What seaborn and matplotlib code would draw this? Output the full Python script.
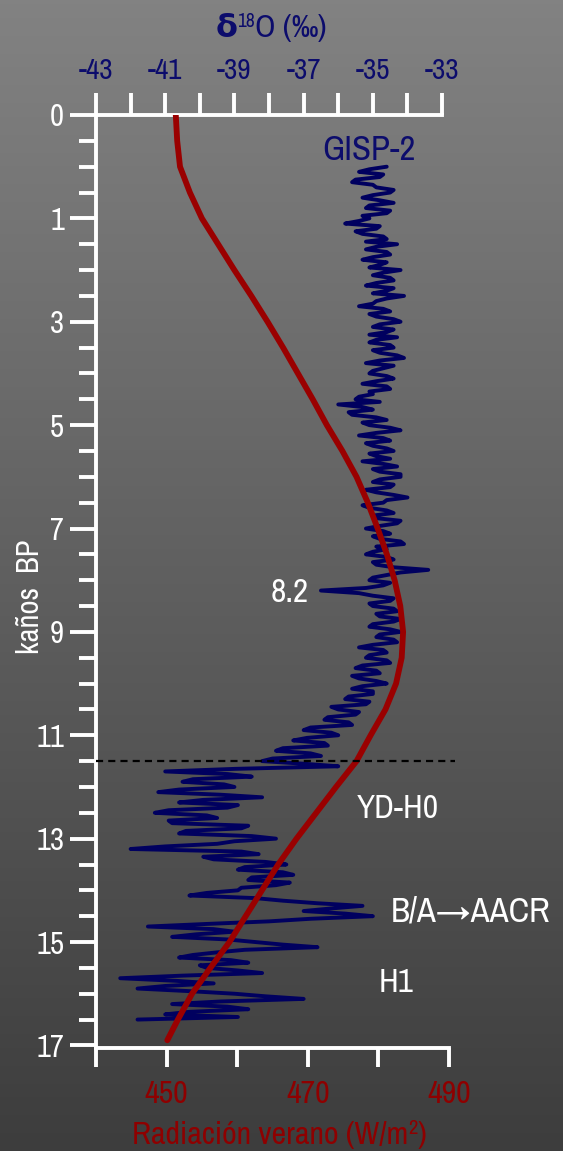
import numpy as np
import pandas as pd
import matplotlib
matplotlib.use("Agg")
import matplotlib.pyplot as plt
from matplotlib.colors import LinearSegmentedColormap
from matplotlib.ticker import MultipleLocator
from matplotlib import font_manager as fm
import seaborn as sns

# ---------------- data ----------------
gisp_age = [
    0.0, 0.05, 0.1, 0.15, 0.2, 0.25, 0.3, 0.35, 0.4, 0.45,
    0.5, 0.55, 0.6, 0.65, 0.7, 0.75, 0.8, 0.85, 0.9, 0.95,
    1.0, 1.05, 1.1, 1.15, 1.2, 1.25, 1.3, 1.35, 1.4, 1.45,
    1.5, 1.55, 1.6, 1.65, 1.7, 1.75, 1.8, 1.85, 1.9, 1.95,
    2.0, 2.05, 2.1, 2.15, 2.2, 2.25, 2.3, 2.35, 2.4, 2.45,
    2.5, 2.55, 2.6, 2.65, 2.7, 2.75, 2.8, 2.85, 2.9, 2.95,
    3.0, 3.05, 3.1, 3.15, 3.2, 3.25, 3.3, 3.35, 3.4, 3.45,
    3.5, 3.55, 3.6, 3.65, 3.7, 3.75, 3.8, 3.85, 3.9, 3.95,
    4.0, 4.05, 4.1, 4.15, 4.2, 4.25, 4.3, 4.35, 4.4, 4.45,
    4.5, 4.55, 4.6, 4.65, 4.7, 4.75, 4.8, 4.85, 4.9, 4.95,
    5.0, 5.05, 5.1, 5.15, 5.2, 5.25, 5.3, 5.35, 5.4, 5.45,
    5.5, 5.55, 5.6, 5.65, 5.7, 5.75, 5.8, 5.85, 5.9, 5.95,
    6.0, 6.05, 6.1, 6.15, 6.2, 6.25, 6.3, 6.35, 6.4, 6.45,
    6.5, 6.55, 6.6, 6.65, 6.7, 6.75, 6.8, 6.85, 6.9, 6.95,
    7.0, 7.05, 7.1, 7.15, 7.2, 7.25, 7.3, 7.35, 7.4, 7.45,
    7.5, 7.55, 7.6, 7.65, 7.7, 7.75, 7.8, 7.85, 7.9, 7.95,
    8.0, 8.05, 8.1, 8.15, 8.2, 8.25, 8.3, 8.35, 8.4, 8.45,
    8.5, 8.55, 8.6, 8.65, 8.7, 8.75, 8.8, 8.85, 8.9, 8.95,
    9.0, 9.05, 9.1, 9.15, 9.2, 9.25, 9.3, 9.35, 9.4, 9.45,
    9.5, 9.55, 9.6, 9.65, 9.7, 9.75, 9.8, 9.85, 9.9, 9.95,
    10.0, 10.05, 10.1, 10.15, 10.2, 10.25, 10.3, 10.35, 10.4, 10.45,
    10.5, 10.55, 10.6, 10.65, 10.7, 10.75, 10.8, 10.85, 10.9, 10.95,
    11.0, 11.05, 11.1, 11.15, 11.2, 11.25, 11.3, 11.35, 11.4, 11.45,
    11.5, 11.55, 11.6, 11.65, 11.7, 11.75, 11.8, 11.85, 11.9, 11.95,
    12.0, 12.05, 12.1, 12.15, 12.2, 12.25, 12.3, 12.35, 12.4, 12.45,
    12.5, 12.55, 12.6, 12.65, 12.7, 12.75, 12.8, 12.85, 12.9, 12.95,
    13.0, 13.05, 13.1, 13.15, 13.2, 13.25, 13.3, 13.35, 13.4, 13.45,
    13.5, 13.55, 13.6, 13.65, 13.7, 13.75, 13.8, 13.85, 13.9, 13.95,
    14.0, 14.05, 14.1, 14.15, 14.2, 14.25, 14.3, 14.35, 14.4, 14.45,
    14.5, 14.55, 14.6, 14.65, 14.7, 14.75, 14.8, 14.85, 14.9, 14.95,
    15.0, 15.05, 15.1, 15.15, 15.2, 15.25, 15.3, 15.35, 15.4, 15.45,
    15.5, 15.55, 15.6, 15.65, 15.7, 15.75, 15.8, 15.85, 15.9, 15.95,
    16.0, 16.05, 16.1, 16.15, 16.2, 16.25, 16.3, 16.35, 16.4, 16.45,
    16.5,
]
gisp_d18o = [
    -34.6, -35.1, -35.4, -34.7, -34.8, -35.5, -35.6, -35.0, -34.9, -34.4,
    -34.5, -35.0, -35.3, -34.8, -34.4, -35.1, -35.2, -34.5, -34.6, -35.3,
    -35.1, -35.4, -35.8, -34.8, -34.9, -35.5, -35.3, -34.7, -34.6, -35.2,
    -34.3, -34.9, -35.2, -34.6, -34.5, -35.0, -35.3, -34.6, -34.8, -35.1,
    -34.2, -34.7, -35.0, -34.5, -34.4, -34.9, -35.2, -34.4, -34.6, -35.0,
    -34.1, -34.6, -34.9, -35.0, -35.4, -34.7, -34.5, -35.1, -34.9, -34.4,
    -34.2, -34.8, -35.0, -34.4, -34.6, -35.1, -34.3, -34.9, -35.1, -34.5,
    -34.4, -35.0, -34.8, -34.3, -34.1, -34.8, -35.2, -34.4, -34.7, -35.0,
    -35.1, -34.6, -34.4, -34.9, -35.3, -34.6, -34.5, -35.1, -35.0, -35.4,
    -35.5, -34.8, -36.0, -35.3, -35.0, -35.7, -35.6, -34.9, -34.6, -35.3,
    -35.1, -34.5, -34.2, -34.9, -35.4, -34.7, -34.5, -35.2, -35.0, -34.6,
    -34.4, -35.1, -34.9, -34.5, -35.3, -34.7, -34.3, -35.0, -34.8, -34.2,
    -34.2, -34.8, -35.0, -34.4, -34.5, -35.2, -34.9, -34.4, -34.0, -34.6,
    -34.7, -35.3, -35.1, -34.6, -34.4, -35.0, -34.9, -34.2, -34.3, -34.8,
    -35.2, -34.7, -34.5, -35.0, -34.8, -34.2, -34.1, -34.9, -34.6, -35.0,
    -35.2, -34.6, -34.4, -35.0, -34.9, -34.4, -33.4, -34.2, -34.6, -35.0,
    -35.1, -34.5, -34.7, -35.2, -36.5, -35.4, -35.0, -34.4, -34.5, -35.1,
    -35.0, -34.4, -34.3, -34.9, -34.8, -34.2, -34.4, -35.0, -35.1, -34.5,
    -34.2, -34.8, -34.9, -34.4, -34.3, -35.0, -35.4, -34.7, -34.6, -35.1,
    -35.2, -34.6, -34.5, -35.3, -35.5, -34.9, -34.8, -35.6, -35.4, -34.9,
    -34.6, -35.3, -35.6, -35.0, -35.0, -35.7, -35.8, -35.1, -35.2, -36.2,
    -36.0, -35.4, -35.5, -36.3, -36.4, -35.7, -35.6, -36.8, -37.0, -36.2,
    -36.0, -36.9, -37.3, -36.4, -36.3, -37.6, -37.8, -36.8, -36.5, -37.9,
    -38.2, -37.0, -36.0, -39.0, -41.0, -39.2, -38.5, -40.2, -40.5, -39.3,
    -39.0, -40.6, -41.2, -39.4, -38.2, -39.9, -40.6, -38.9, -39.2, -40.9,
    -41.3, -39.8, -39.5, -40.9, -40.8, -38.6, -38.8, -40.4, -40.6, -38.5,
    -37.8, -39.0, -39.5, -41.0, -42.0, -38.8, -38.3, -39.9, -39.6, -38.1,
    -37.5, -38.7, -38.9, -37.6, -37.3, -38.5, -38.6, -37.4, -37.8, -38.8,
    -38.9, -39.8, -40.3, -38.4, -37.6, -36.6, -35.3, -36.2, -37.0, -35.8,
    -35.0, -36.8, -38.0, -39.8, -41.5, -39.6, -39.0, -40.1, -40.8, -39.2,
    -38.4, -37.6, -36.6, -38.7, -39.5, -40.2, -40.6, -39.1, -38.6, -40.0,
    -39.8, -38.9, -38.2, -40.5, -42.3, -40.7, -39.6, -41.0, -41.8, -40.3,
    -39.0, -38.1, -37.0, -39.4, -40.8, -39.2, -38.6, -40.3, -41.0, -38.9,
    -41.8,
]

rad_age = [-1.0, -0.5, 0.0, 0.5, 1.0, 1.5, 2.0, 2.5, 3.0, 3.5, 4.0, 4.5,
           5.0, 5.5, 6.0, 6.5, 7.0, 7.5, 8.0, 8.5, 9.0, 9.5, 10.0, 10.5,
           11.0, 11.5, 12.0, 12.5, 13.0, 13.5, 14.0, 14.5, 15.0, 15.5,
           16.0, 16.5, 16.9]
rad_wm2 = [451.3, 451.5, 451.9, 453.3, 455.0, 457.3, 459.6, 462.0, 464.3,
           466.5, 468.6, 470.7, 472.7, 474.9, 476.9, 478.5, 479.9, 481.2,
           482.3, 483.1, 483.5, 483.3, 482.5, 481.0, 478.9, 476.9, 474.0,
           471.2, 468.4, 465.8, 463.5, 461.2, 458.9, 456.2, 453.6, 451.6,
           450.1]

age_tick_pos = [-1, 1, 3, 5, 7, 9, 11, 13, 15, 17]
age_tick_labels = ["0", "1", "3", "5", "7", "9", "11", "13", "15", "17"]
d18o_ticks = [-43, -42, -41, -40, -39, -38, -37, -36, -35, -34, -33]
d18o_labels = ["-43", "", "-41", "", "-39", "", "-37", "", "-35", "", "-33"]
rad_ticks = [440, 450, 460, 470, 480, 490]
rad_labels = ["", "450", "", "470", "", "490"]
yd_boundary = 11.5

annotations = [
    ("GISP-2", -35.1, -0.32, "navy", 25),
    ("8.2", -37.4, 8.25, "white", 24),
    ("YD-H0", -34.27, 12.42, "white", 24),
    ("B/A\u2192AACR", -32.19, 14.4, "white", 25),
    ("H1", -34.33, 15.79, "white", 24),
]

# ---------------- style ----------------
sns.set_style("ticks")
installed = {f.name for f in fm.fontManager.ttflist}
base = next((n for n in ["Archivo Narrow", "Roboto Condensed", "PT Sans Narrow",
                         "Liberation Sans Narrow", "Liberation Sans"]
             if n in installed), "DejaVu Sans")
FAM = [base, "DejaVu Sans"]
plt.rcParams["font.family"] = FAM
NAVY = "#0c0c6c"
BLUE = "#00005f"
RED = "#9a0000"
RTXT = "#8e0000"

W, H = 563, 1151
fig = plt.figure(figsize=(W / 100, H / 100), dpi=100)

bg = fig.add_axes([0, 0, 1, 1], zorder=-10)
cmap = LinearSegmentedColormap.from_list("bg", ["#828282", "#3d3d3d"])
bg.imshow(np.linspace(0, 1, 256).reshape(-1, 1), aspect="auto", cmap=cmap,
          extent=[0, 1, 0, 1], origin="upper")
bg.axis("off")

L, R, T, B = 96, 449, 115, 1048
ax = fig.add_axes([L / W, 1 - B / H, (R - L) / W, (B - T) / H])
ax.patch.set_visible(False)
ax2 = ax.twiny()

df_g = pd.DataFrame({"age": gisp_age, "d18o": gisp_d18o})
df_r = pd.DataFrame({"age": rad_age, "rad": rad_wm2})

sns.lineplot(data=df_g, x="d18o", y="age", sort=False, estimator=None,
             orient="y", color=BLUE, lw=2.8, ax=ax)
sns.lineplot(data=df_r, x="rad", y="age", sort=False, estimator=None,
             orient="y", color=RED, lw=4.2, ax=ax2, zorder=5)

ax.set_xlim(-43, -32.8)
ax2.set_xlim(440, 490)
ax.set_ylim(17.05, -1)
for a in (ax, ax2):
    a.set_xlabel("")
    a.set_ylabel("")

# main axis (top: d18O, left: age)
ax.xaxis.tick_top()
ax.set_xticks(d18o_ticks)
ax.set_xticklabels(d18o_labels)
ax.tick_params(axis="x", which="major", direction="out", length=16, width=2.8,
               color="white", labelcolor=NAVY, labelsize=21, pad=6,
               top=True, bottom=False, labeltop=True, labelbottom=False)
ax.set_yticks(age_tick_pos)
ax.set_yticklabels(age_tick_labels)
ax.yaxis.set_minor_locator(MultipleLocator(0.5))
ax.tick_params(axis="y", which="major", direction="out", length=19, width=2.8,
               color="white", labelcolor="white", labelsize=22, pad=4)
ax.tick_params(axis="y", which="minor", direction="out", length=12, width=2.8,
               color="white")
for s in ("right", "bottom"):
    ax.spines[s].set_visible(False)
for s in ("left", "top"):
    ax.spines[s].set_color("white")
    ax.spines[s].set_linewidth(2.8)
ax.spines["top"].set_bounds(-43, -33)

# twin axis (bottom: radiation)
ax2.xaxis.tick_bottom()
ax2.set_xticks(rad_ticks)
ax2.set_xticklabels(rad_labels)
ax2.tick_params(axis="x", direction="out", length=14, width=2.8, color="white",
                labelcolor=RTXT, labelsize=23, pad=9,
                top=False, bottom=True, labeltop=False, labelbottom=True)
for s in ("right", "top", "left"):
    ax2.spines[s].set_visible(False)
ax2.spines["bottom"].set_visible(True)
ax2.spines["bottom"].set_color("white")
ax2.spines["bottom"].set_linewidth(2.8)

ax2.axhline(yd_boundary, xmin=0, xmax=1.017, color="black", lw=1.6,
            ls=(0, (3.2, 2.3)), clip_on=False, zorder=6)

for txt, xv, yv, col, fs in annotations:
    c = NAVY if col == "navy" else "white"
    ax.text(xv, yv, txt, color=c, fontsize=fs,
            ha="center", va="center", clip_on=False, family=FAM, zorder=7)

# axis titles built from pieces
renderer = fig.canvas.get_renderer()


def seq_text(parts, cx, base_y):
    objs = []
    x = 0.0
    for s, size, weight, rise, col, fam in parts:
        t = fig.text(0, 1 - (base_y - rise) / H, s, fontsize=size,
                     fontweight=weight, color=col, ha="left", va="baseline",
                     family=fam)
        w = t.get_window_extent(renderer).width
        objs.append((t, x))
        x += w
    x0 = cx - x / 2
    for t, off in objs:
        t.set_x((x0 + off) / W)


seq_text([("\u03b4", 23, "bold", 0, NAVY, ["DejaVu Sans"]),
          ("18", 14, "normal", 10, NAVY, FAM),
          ("O (\u2030)", 23, "normal", 0, NAVY, FAM)], 271, 37)
seq_text([("Radiaci\u00f3n verano (W/m", 23, "normal", 0, RTXT, FAM),
          ("2", 15, "normal", 10, RTXT, FAM),
          (")", 23, "normal", 0, RTXT, FAM)], 279, 1144)

fig.text(30 / W, 1 - 597 / H, "ka\u00f1os  BP", rotation=90, color="white",
         fontsize=22, ha="center", va="center", family=FAM)

fig.savefig("out.png", dpi=100)
